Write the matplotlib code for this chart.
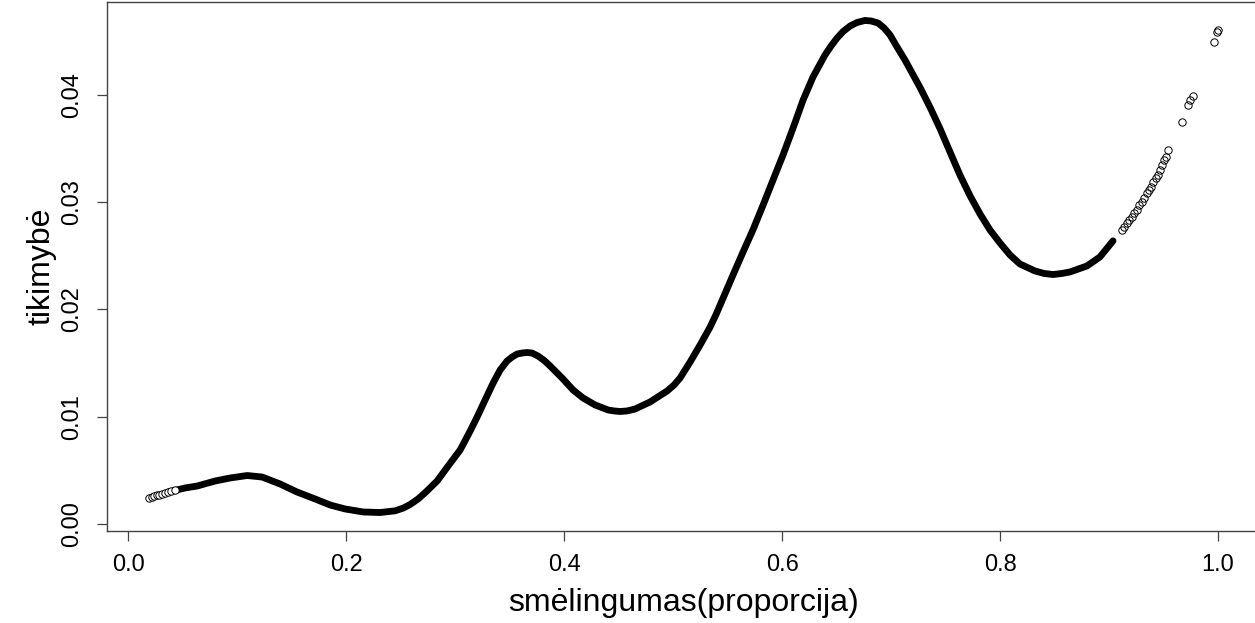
import matplotlib
matplotlib.use("Agg")
import matplotlib.pyplot as plt

plt.rcParams['font.family'] = ['Liberation Sans', 'DejaVu Sans']

# Densely sampled part of the curve (the overlapping points form a solid band)
band_x = [0.0367, 0.0523, 0.0633, 0.0798, 0.0936, 0.1092, 0.1229, 0.1394, 0.1550,
          0.1716, 0.1853, 0.1991, 0.2156, 0.2312, 0.2450, 0.2523, 0.2587, 0.2661,
          0.2725, 0.2835, 0.2936, 0.3046, 0.3138, 0.3202, 0.3275, 0.3349, 0.3413,
          0.3477, 0.3523, 0.3569, 0.3615, 0.3661, 0.3706, 0.3761, 0.3817, 0.3872,
          0.3982, 0.4083, 0.4174, 0.4284, 0.4404, 0.4459, 0.4514, 0.4578, 0.4651,
          0.4789, 0.4945, 0.5009, 0.5064, 0.5156, 0.5248, 0.5339, 0.5395, 0.5450,
          0.5550, 0.5642, 0.5734, 0.5826, 0.5917, 0.6009, 0.6101, 0.6193, 0.6284,
          0.6394, 0.6450, 0.6505, 0.6560, 0.6624, 0.6688, 0.6761, 0.6817, 0.6881,
          0.6936, 0.6991, 0.7055, 0.7128, 0.7266, 0.7358, 0.7450, 0.7541, 0.7633,
          0.7725, 0.7817, 0.7908, 0.8000, 0.8092, 0.8183, 0.8321, 0.8404, 0.8486,
          0.8569, 0.8642, 0.8798, 0.8917, 0.9037]
band_y = [0.00298, 0.00336, 0.00354, 0.00401, 0.00429, 0.00452, 0.00438, 0.00373, 0.00298,
          0.00233, 0.00177, 0.00140, 0.00112, 0.00107, 0.00123, 0.00148, 0.00182, 0.00234,
          0.00292, 0.00401, 0.00541, 0.00690, 0.00867, 0.00998, 0.01156, 0.01315, 0.01436,
          0.01520, 0.01557, 0.01585, 0.01594, 0.01599, 0.01594, 0.01566, 0.01525, 0.01473,
          0.01361, 0.01249, 0.01175, 0.01110, 0.01063, 0.01054, 0.01049, 0.01054, 0.01072,
          0.01138, 0.01240, 0.01296, 0.01361, 0.01510, 0.01669, 0.01835, 0.01955, 0.02085,
          0.02322, 0.02536, 0.02745, 0.02974, 0.03207, 0.03441, 0.03692, 0.03953, 0.04168,
          0.04373, 0.04457, 0.04531, 0.04592, 0.04643, 0.04676, 0.04695, 0.04690, 0.04671,
          0.04625, 0.04559, 0.04448, 0.04326, 0.04070, 0.03885, 0.03685, 0.03469, 0.03252,
          0.03060, 0.02890, 0.02741, 0.02620, 0.02508, 0.02424, 0.02359, 0.02336, 0.02326,
          0.02336, 0.02350, 0.02406, 0.02490, 0.02640]

# Sparse observations at both ends, drawn as individual open circles
head_x = [0.0193, 0.0216, 0.0239, 0.0261, 0.0284, 0.0312, 0.0339, 0.0367, 0.0394, 0.0431]
head_y = [0.00242, 0.00252, 0.00261, 0.00266, 0.00275, 0.00280, 0.00289, 0.00298, 0.00308, 0.00317]

tail_x = [0.9117, 0.9138, 0.9162, 0.9186, 0.9208, 0.9229, 0.9254, 0.9278, 0.9300, 0.9321,
          0.9346, 0.9367, 0.9385, 0.9406, 0.9428, 0.9447, 0.9468, 0.9489, 0.9507, 0.9523,
          0.9544, 0.9667, 0.9728, 0.9743, 0.9768, 0.9966, 0.9994, 1.0000]
tail_y = [0.02741, 0.02772, 0.02804, 0.02834, 0.02865, 0.02897, 0.02928, 0.02974, 0.03005, 0.03037,
          0.03083, 0.03114, 0.03145, 0.03192, 0.03223, 0.03254, 0.03301, 0.03347, 0.03394, 0.03425,
          0.03487, 0.03745, 0.03907, 0.03953, 0.03993, 0.04497, 0.04585, 0.04606]

x_ticks = [0.0, 0.2, 0.4, 0.6, 0.8, 1.0]
x_tick_labels = ["0.0", "0.2", "0.4", "0.6", "0.8", "1.0"]
y_ticks = [0.00, 0.01, 0.02, 0.03, 0.04]
y_tick_labels = ["0.00", "0.01", "0.02", "0.03", "0.04"]

W, H = 1255, 623
fig = plt.figure(figsize=(W / 100, H / 100), dpi=100)
ax = fig.add_axes([106.5 / W, (H - 531) / H, 1154.2 / W, 529 / H])

ax.plot(band_x, band_y, color='black', lw=4.9, solid_capstyle='round',
        solid_joinstyle='round', zorder=2)
ax.plot(head_x, head_y, linestyle='none', marker='o', ms=5.3, mfc='white',
        mec='black', mew=0.7, zorder=3)
ax.plot(tail_x, tail_y, linestyle='none', marker='o', ms=5.3, mfc='none',
        mec='black', mew=0.7, zorder=3)

ax.set_xlim(-0.0199, 1.0392)
ax.set_ylim(-0.000653, 0.04867)

ax.set_xticks(x_ticks)
ax.set_xticklabels(x_tick_labels)
ax.set_yticks(y_ticks)
ax.set_yticklabels(y_tick_labels, rotation=90, va='center')

for s in ax.spines.values():
    s.set_color('#444444')
    s.set_linewidth(1.0)

ax.tick_params(axis='both', direction='out', length=7.5, width=0.9,
               color='#444444', labelsize=17, labelcolor='black')
ax.tick_params(axis='x', pad=9)
ax.tick_params(axis='y', pad=9)

ax.set_xlabel("smėlingumas(proporcija)", fontsize=23, labelpad=9)
ax.set_ylabel("tikimybė", fontsize=23, labelpad=4)

fig.savefig("out.png", dpi=100, facecolor='white')
